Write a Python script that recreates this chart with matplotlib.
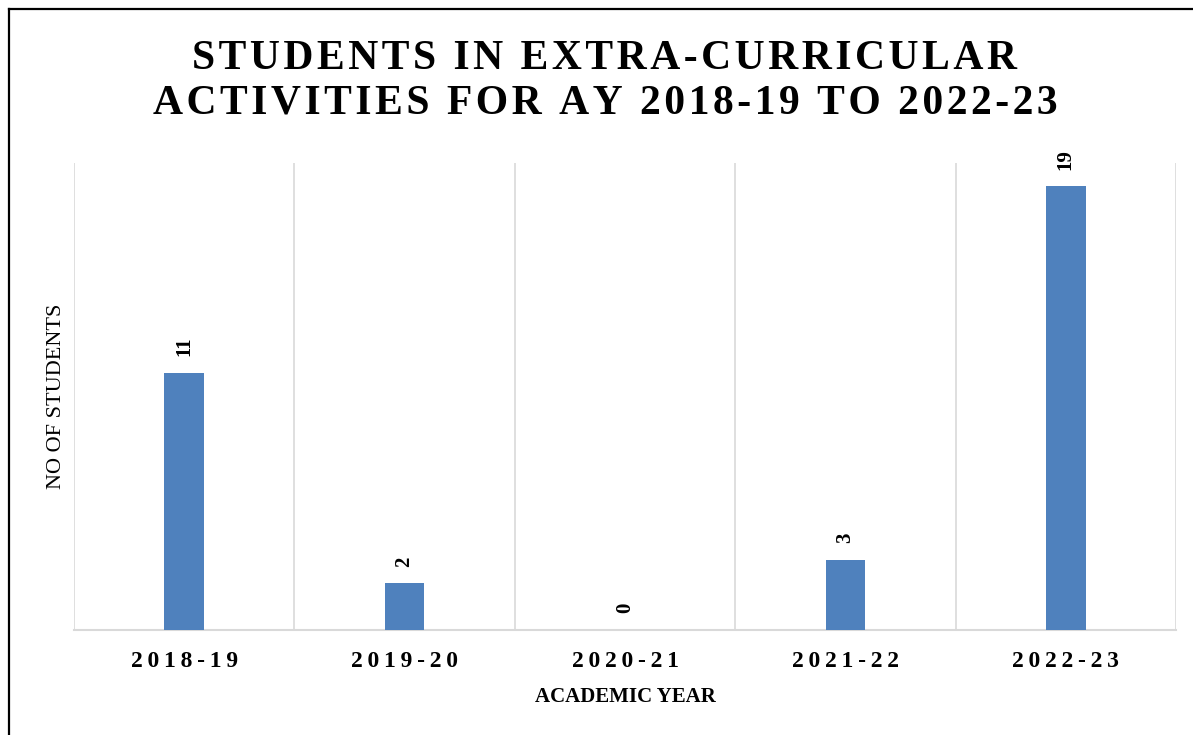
import matplotlib
matplotlib.use("Agg")
import matplotlib.pyplot as plt
from matplotlib.lines import Line2D

# values
years = ["2018-19", "2019-20", "2020-21", "2021-22", "2022-23"]
students = [11, 2, 0, 3, 19]

TITLE = "STUDENTS IN EXTRA-CURRICULAR\nACTIVITIES FOR AY 2018-19 TO 2022-23"
BAR_COLOR = "#4F81BD"
GRID_COLOR = "#D9D9D9"
SERIF = ["Liberation Serif", "DejaVu Serif"]

W, H = 1193, 735


def spaced(text: str, gap: str = "\u200a") -> str:
    """Fake letter spacing by slipping narrow spaces between characters."""
    return "\n".join(gap.join(line) for line in text.split("\n"))


plt.rcParams["font.family"] = SERIF

fig = plt.figure(figsize=(W / 100, H / 100), dpi=100)
fig.patch.set_facecolor("white")

# frame lines (left + top) like the pasted chart border
fig.add_artist(Line2D([9 / W, 9 / W], [0, 1 - 9 / H], color="black", linewidth=1.6))
fig.add_artist(Line2D([9 / W, 1], [1 - 9 / H, 1 - 9 / H], color="black", linewidth=1.6))

left, right, top, bottom = 74, 1176, 163, 630
ax = fig.add_axes([left / W, (H - bottom) / H, (right - left) / W, (bottom - top) / H])

xs = list(range(len(years)))
ax.bar(xs, students, width=0.18, color=BAR_COLOR, zorder=3)
ax.set_xlim(-0.5, len(years) - 0.5)
ax.set_ylim(0, 20)

for b in range(len(years) + 1):
    ax.axvline(b - 0.5, color=GRID_COLOR, linewidth=1.2, zorder=1)

for spine in ("top", "right", "left"):
    ax.spines[spine].set_visible(False)
ax.spines["bottom"].set_color(GRID_COLOR)
ax.spines["bottom"].set_linewidth(1.5)

ax.set_yticks([])
ax.set_xticks(xs)
ax.set_xticklabels([spaced(y, "\u2009") for y in years], fontsize=17, fontweight="bold")
ax.tick_params(axis="x", length=0, pad=15)

for x, v in zip(xs, students):
    ax.annotate(
        str(v), (x, v), xytext=(0, 12), textcoords="offset points",
        rotation=90, ha="center", va="bottom",
        fontsize=15, fontweight="bold",
    )

ax.set_ylabel("NO OF STUDENTS", fontsize=16, labelpad=6)
ax.set_xlabel("ACADEMIC YEAR", fontsize=15, fontweight="bold", labelpad=11)

fig.text(605 / W, 1 - 81 / H, spaced(TITLE), ha="center", va="center",
         fontsize=30, fontweight="bold", linespacing=1.23)

fig.savefig("out.png", dpi=100)
